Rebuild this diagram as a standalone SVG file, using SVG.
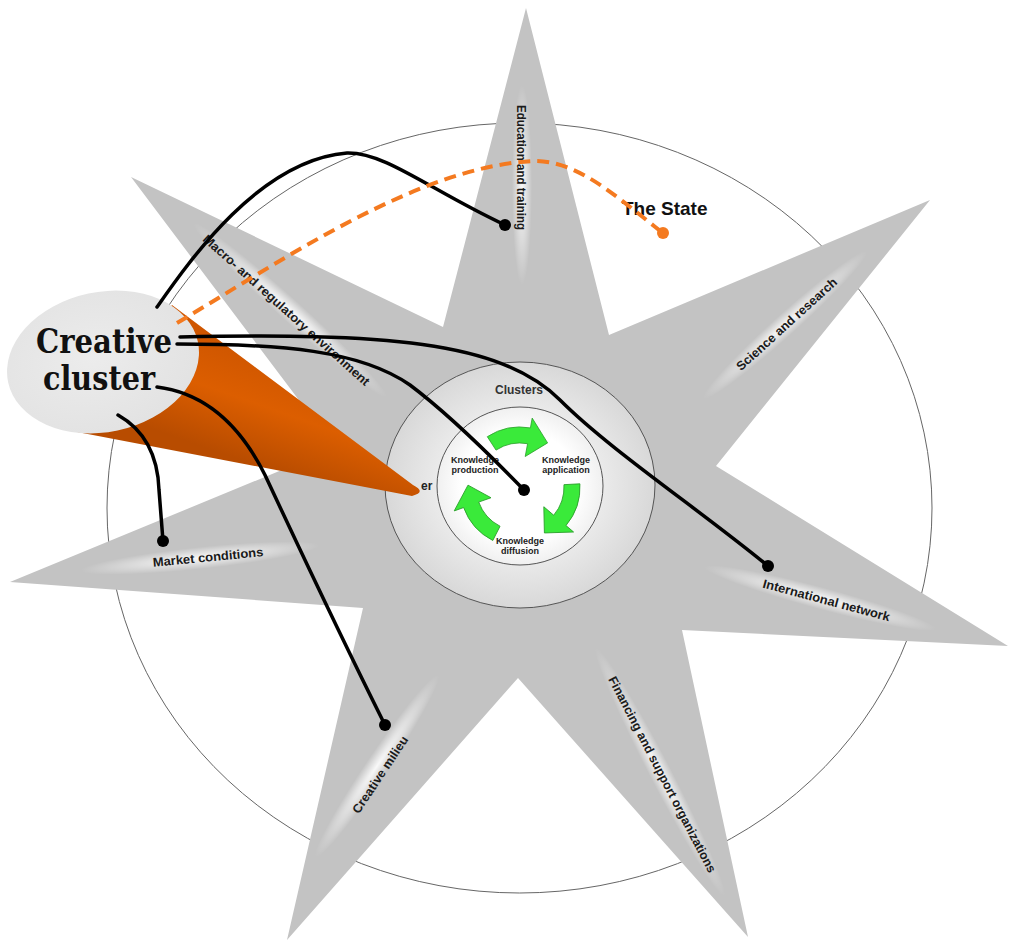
<svg xmlns="http://www.w3.org/2000/svg" width="1009" height="943" viewBox="0 0 1009 943">
<defs>
<radialGradient id="glow" cx="0.5" cy="0.5" r="0.5">
<stop offset="0" stop-color="#ffffff" stop-opacity="0.9"/>
<stop offset="0.45" stop-color="#ffffff" stop-opacity="0.5"/>
<stop offset="1" stop-color="#ffffff" stop-opacity="0"/>
</radialGradient>
<radialGradient id="ringG" cx="0.5" cy="0.5" r="0.5">
<stop offset="0.6" stop-color="#ebebeb"/>
<stop offset="1" stop-color="#d8d8d8"/>
</radialGradient>
<radialGradient id="innerG" cx="0.5" cy="0.5" r="0.5">
<stop offset="0.7" stop-color="#ffffff"/>
<stop offset="1" stop-color="#f0f0f0"/>
</radialGradient>
<linearGradient id="coneG" gradientUnits="userSpaceOnUse" x1="290" y1="365" x2="255" y2="465">
<stop offset="0" stop-color="#cf5600"/>
<stop offset="0.45" stop-color="#dc5e00"/>
<stop offset="1" stop-color="#b84c00"/>
</linearGradient>
<radialGradient id="ellG" cx="0.45" cy="0.45" r="0.6">
<stop offset="0" stop-color="#ececec"/>
<stop offset="1" stop-color="#e2e2e2"/>
</radialGradient>
<path id="garrow" d="M487.3,436.7 A60,60 0 0 1 530.4,427.9 L532.2,418.1 L547.6,442.9 L525.2,456.5 L527.6,443.7 A44,44 0 0 0 496,450.1 Z"/>
</defs>
<style>
.lbl{font-family:"Liberation Sans",Arial,sans-serif;font-weight:bold;font-size:12.5px;fill:#1a1a1a;text-anchor:middle}
.kn{font-family:"Liberation Sans",Arial,sans-serif;font-weight:bold;font-size:9px;fill:#222;text-anchor:middle}
.con{fill:none;stroke:#000;stroke-width:3.5;stroke-linecap:round}
.dot{fill:#000}
.glow{fill:url(#glow)}
.ga{fill:#3aea3a;stroke:#2a9d2a;stroke-width:0.8}
</style>
<rect width="1009" height="943" fill="#ffffff"/>
<g id="outer-circle">
<ellipse cx="519.5" cy="508" rx="412.5" ry="385" fill="none" stroke="#666" stroke-width="1"/>
</g>
<g id="star">
<polygon points="526,8 609,335 930,200 716,466 1008,646 682,630 748,937 518,678 287,940 363,608 10,582 335,448 131,177 443,327" fill="#c3c3c3"/>
<ellipse class="glow" cx="0" cy="0" rx="100" ry="10" transform="translate(522,185) rotate(90)"/>
<ellipse class="glow" cx="0" cy="0" rx="130" ry="11" transform="translate(290,310) rotate(42)"/>
<ellipse class="glow" cx="0" cy="0" rx="110" ry="11" transform="translate(785,325) rotate(-42)"/>
<ellipse class="glow" cx="0" cy="0" rx="120" ry="11" transform="translate(200,558) rotate(-6)"/>
<ellipse class="glow" cx="0" cy="0" rx="120" ry="11" transform="translate(820,598) rotate(15)"/>
<ellipse class="glow" cx="0" cy="0" rx="110" ry="11" transform="translate(377,766) rotate(-56)"/>
<ellipse class="glow" cx="0" cy="0" rx="140" ry="11" transform="translate(660,772) rotate(62.6)"/>
</g>
<g id="star-labels">
<text class="lbl" transform="translate(521,167.5) rotate(90)" dy="4.5" textLength="125" lengthAdjust="spacingAndGlyphs">Education and training</text>
<text class="lbl" transform="translate(286.5,310) rotate(41.9)" dy="4.5" textLength="219" lengthAdjust="spacingAndGlyphs">Macro- and regulatory environment</text>
<text class="lbl" transform="translate(786.5,324) rotate(-42.2)" dy="4.5" textLength="131" lengthAdjust="spacingAndGlyphs">Science and research</text>
<text class="lbl" transform="translate(208,557) rotate(-5.5)" dy="4.5" textLength="111" lengthAdjust="spacingAndGlyphs">Market conditions</text>
<text class="lbl" transform="translate(826.5,600) rotate(15)" dy="4.5" textLength="131" lengthAdjust="spacingAndGlyphs">International network</text>
<text class="lbl" transform="translate(380,774.5) rotate(-56.3)" dy="4.5" textLength="90" lengthAdjust="spacingAndGlyphs">Creative milieu</text>
<text class="lbl" transform="translate(662.5,774.5) rotate(62.6)" dy="4.5" textLength="219" lengthAdjust="spacingAndGlyphs">Financing and support organizations</text>
</g>
<g id="clusters">
<ellipse cx="520" cy="485" rx="135" ry="123" fill="url(#ringG)" stroke="#555" stroke-width="1"/>
<text x="519" y="394" font-family="Liberation Sans, Arial, sans-serif" font-weight="bold" font-size="12" fill="#333" text-anchor="middle">Clusters</text>
<text x="421" y="490" font-family="Liberation Sans, Arial, sans-serif" font-weight="bold" font-size="12" fill="#222">er</text>
</g>
<g id="knowledge-circle">
<ellipse cx="520" cy="486" rx="83" ry="79" fill="url(#innerG)" stroke="#555" stroke-width="1"/>
<use href="#garrow" class="ga"/>
<use href="#garrow" class="ga" transform="rotate(120 520 487)"/>
<use href="#garrow" class="ga" transform="rotate(240 520 487)"/>
<text class="kn" x="475" y="463">Knowledge</text>
<text class="kn" x="475" y="473">production</text>
<text class="kn" x="566" y="463">Knowledge</text>
<text class="kn" x="566" y="473">application</text>
<text class="kn" x="520" y="544">Knowledge</text>
<text class="kn" x="520" y="554">diffusion</text>
</g>
<g id="creative-cluster">
<path d="M172,305 L413,485 Q427,492 412,496 L72,431 Z" fill="url(#coneG)"/>
<ellipse cx="0" cy="0" rx="97" ry="70" transform="translate(103,362) rotate(-12)" fill="url(#ellG)"/>
<text x="36" y="353" font-family="DejaVu Serif, serif" font-weight="bold" font-size="33" fill="#111" textLength="136" lengthAdjust="spacingAndGlyphs">Creative</text>
<text x="43" y="390" font-family="DejaVu Serif, serif" font-weight="bold" font-size="33" fill="#111" textLength="112" lengthAdjust="spacingAndGlyphs">cluster</text>
</g>
<g id="the-state">
<text x="622" y="215" font-family="Liberation Sans, Arial, sans-serif" font-weight="bold" font-size="19" fill="#111">The State</text>
</g>
<g id="connectors">
<path class="con" d="M157,307 C190,260 260,160 347,153 C385,152 430,190 505,225"/>
<circle class="dot" cx="505" cy="225" r="6"/>
<path class="con" d="M180,337 C380,333 500,340 560,400 C610,450 700,510 768,566"/>
<circle class="dot" cx="768" cy="566" r="6"/>
<path class="con" d="M177,344 C280,344 360,350 410,385 C450,415 490,455 524,490"/>
<circle class="dot" cx="524" cy="490" r="6"/>
<path class="con" d="M157,387 C205,393 240,425 265,475 C300,550 345,645 385,725"/>
<circle class="dot" cx="385" cy="725" r="6"/>
<path class="con" d="M118,415 C148,432 158,460 159,490 L163,541"/>
<circle class="dot" cx="163" cy="541" r="6"/>
<path d="M177,323 C280,262 420,165 535,161 C580,161 620,200 663,233" fill="none" stroke="#f47a20" stroke-width="4" stroke-dasharray="12 7"/>
<circle cx="663" cy="233" r="6" fill="#f47a20"/>
</g>
</svg>
